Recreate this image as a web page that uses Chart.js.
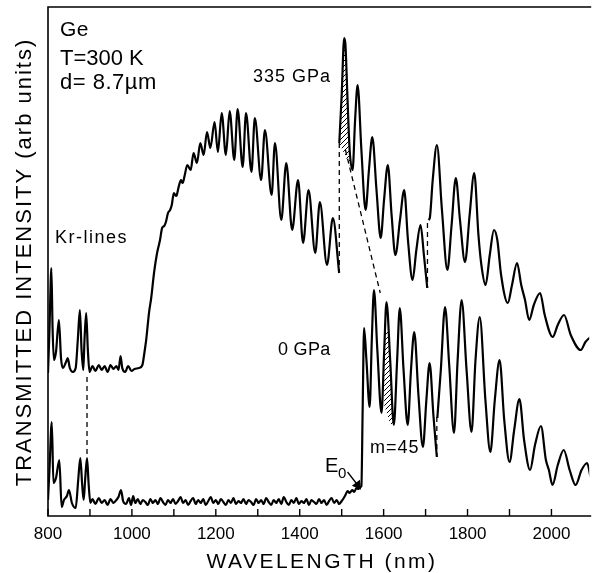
<!DOCTYPE html>
<html>
<head>
<meta charset="utf-8">
<script src="https://cdn.jsdelivr.net/npm/chart.js@4"></script>
<style>
html, body { margin: 0; padding: 0; background: #fff; }
</style>
</head>
<body>
<canvas id="chart" width="595" height="573"></canvas>
<script>
// wavelength (nm), transmitted intensity (arb units)
const upper335 = [
  [800,143],[803.5,186],[808,248],[811,186],[814,156],[819,164],[826,196],[831,158],[835,148],[843,154],[847,158],[852,148],[859,144],[866,148],[871,176],[876,206],[880,166],[884,146],[887,176],[891,203],[895,166],[899,144],
  [906,150],[913,145],[921,151],[928,146],[935,150],[942,144],[949,151],[956,147],[963,150],[968,146],[973,160],[977,148],[984,144],[991,150],[999,145],[1006,147],[1017,148],[1025,151],
  [1029,161],[1034,176],[1041,204],[1046,218],[1053,244],[1060,263],[1067,276],[1072,288],[1077,290],[1081,294],[1086,303],[1091,306],[1095,311],[1100,323],[1105,320],[1107,321],[1112,330],[1117,336],[1121,333],[1126,341],
  [1132,351],[1140,346],[1147,363],[1155,353],[1163,373],[1171,361],[1179,384],[1187,368],[1197,394],[1205,364],[1214,403],[1224,361],[1233,405],[1244,356],[1252,407],[1264,349],[1272,403],[1285,344],[1293,398],[1308,336],[1317,386],[1333,321],[1341,373],[1356,296],[1368,353],[1382,286],[1396,336],[1408,273],[1421,326],[1437,263],[1448,314],[1465,251],[1479,298],[1494,243],
  [1494.2,null],
  [1494.3,373],[1500,421],[1506,478],[1509,471],[1514,416],[1519,366],[1526,346],[1532,396],[1538,431],[1547,366],[1557,306],[1565,346],[1573,379],[1583,326],[1593,278],[1601,316],[1610,351],[1619,301],[1628,261],[1639,296],[1649,326],[1658,276],[1669,236],[1678,266],[1688,291],[1696,261],[1704,228],
  [1705,null],
  [1707,296],[1710,298],[1717,336],[1727,371],[1739,306],[1752,246],[1762,291],[1772,338],[1782,296],[1794,254],[1805,301],[1816,343],[1826,281],[1833,251],[1843,231],[1853,261],[1863,286],[1871,276],[1880,241],[1896,213],[1906,231],[1918,253],[1928,231],[1937,216],[1947,196],[1958,211],[1973,223],[1984,201],[2003,179],[2015,191],[2030,201],[2046,181],[2070,166],[2081,174],[2093,179]
];

const lower0 = [
  [800,16],[803.5,46],[809,94],[813,33],[819,38],[827,56],[832.5,9],[838,16],[845,20],[850,26],[857,13],[866,8],[872,36],[877,58],[881.5,31],[885,16],[888.5,36],[893,58],[897,31],[901,13],[906,17],[913,12],[921,18],[928,13],[935,16],[942,11],[949,17],[956,13],[963,16],[968,19],[974,26],[979,15],[986,12],[993,18],[998,11],[1003,20],
  [1008,13],[1014,17],[1020,12],[1026,16],[1032,14],[1038,11],[1044,17],[1050,13],[1056,16],[1062,12],[1068,18],[1074,14],[1080,11],[1086,16],[1092,13],[1098,17],[1104,12],[1110,15],[1116,19],[1122,13],[1128,16],[1134,11],[1140,15],[1146,18],[1152,12],[1158,16],[1164,13],[1170,17],[1176,11],[1182,15],[1188,19],[1194,13],[1200,16],[1206,12],[1212,17],[1218,14],[1224,11],[1230,16],[1236,13],[1242,18],[1248,12],[1254,15],[1260,13],[1266,17],[1272,12],[1278,16],[1284,14],[1290,11],[1296,17],[1302,13],[1308,16],[1314,12],[1320,18],[1326,14],[1332,11],[1338,16],[1344,13],[1350,17],[1356,12],[1362,19],[1368,14],[1374,11],[1380,16],[1386,13],[1392,18],[1398,12],[1404,15],[1410,13],[1416,17],[1422,11],[1428,16],[1434,14],[1440,12],[1446,17],[1452,13],[1458,16],[1464,11],[1470,15],[1476,18],[1482,13],[1488,16],[1494,12],[1500,15],[1505,18],
  [1509,21],[1514,25],[1519,23],[1525,26],[1530,24],[1535,28],[1540,27],[1544,29],[1547,30],[1550,106],[1553.4,188],[1559,156],[1566.7,109],[1571.8,176],[1577,226],[1585,166],[1595,103],[1601.4,166],[1606.8,214],[1615.6,156],[1624.3,91],[1632.2,156],[1638.5,208],[1647.5,146],[1657.4,91],[1665.2,146],[1673,184],[1683,121],[1693.6,69],[1701.9,116],[1709.6,153],[1718.6,101],[1726.8,59],
  [1727.4,null],
  [1728,98],[1736.3,146],[1746.4,209],[1756.3,151],[1767.7,83],[1776.4,156],[1785.9,216],[1797.7,146],[1809.5,84],[1819,156],[1829.1,199],[1842.6,116],[1854.4,64],[1865,116],[1876.4,156],[1887.5,96],[1900.1,54],[1911.2,86],[1923.7,117],[1934.8,76],[1949,46],[1960.8,71],[1975,90],[1986.8,56],[1993.9,46],[2002.5,31],[2015.1,51],[2029.3,66],[2043.4,46],[2057.6,31],[2071.8,46],[2085,53],[2093.1,39]
];

// dashed guide lines, each [from, to]
const dashes = [
  [[893,139],[893,61]],
  [[1494.3,373],[1494.3,246]],
  [[1509,366],[1592,223]],
  [[1704.5,293],[1704.5,228]],
  [[1726.8,99],[1726.8,59]]
];

// hatched peaks
const hatchUpper = [[1494.3,373],[1500,421],[1506,478],[1509,471],[1514,416],[1519,366],[1521,349],[1494.3,373]];
const hatchLower = [[1601.4,186],[1610.9,186],[1624.3,91],[1615.6,92],[1601.4,111],[1601.4,186]];

const e0Arrow = [[1514,44],[1538,31]];

const tickMarks = [800,900,1000,1100,1200,1300,1400,1500,1600,1700,1800,1900,2000];
const tickLabels = [800,1000,1200,1400,1600,1800,2000];

const FONT = '"Liberation Sans", Arial, sans-serif';
const toXY = arr => arr.map(([x, y]) => ({x: x, y: y}));

const ctx0 = document.getElementById("chart").getContext("2d");
function hatchPattern() {
    const c = document.createElement("canvas");
    c.width = 5; c.height = 5;
    const g = c.getContext("2d");
    g.strokeStyle = "#000";
    g.lineWidth = 1;
    g.beginPath();
    g.moveTo(0, 5); g.lineTo(5, 0);
    g.moveTo(-1, 1); g.lineTo(1, -1);
    g.moveTo(4, 6); g.lineTo(6, 4);
    g.stroke();
    return ctx0.createPattern(c, "repeat");
}
const hatch = hatchPattern();

let datasets = [
    { data: toXY(hatchUpper), fill: 'shape', backgroundColor: hatch, borderWidth: 0, pointRadius: 0, tension: 0 },
    { data: toXY(hatchLower), fill: 'shape', backgroundColor: hatch, borderWidth: 0, pointRadius: 0, tension: 0 },
    { data: toXY(upper335), borderColor: '#000', borderWidth: 2.2, pointRadius: 0, cubicInterpolationMode: 'monotone', spanGaps: false },
    { data: toXY(lower0), borderColor: '#000', borderWidth: 2.2, pointRadius: 0, cubicInterpolationMode: 'monotone', spanGaps: false }
];
dashes.forEach(d => {
    datasets.push({ data: toXY(d), borderColor: '#000', borderWidth: 1.3, borderDash: [5, 4], pointRadius: 0 });
});
datasets.push({
    data: toXY(e0Arrow), borderColor: '#000', borderWidth: 1.3,
    pointRadius: [0, 4.5], pointStyle: 'triangle', pointRotation: 143,
    pointBackgroundColor: '#000', pointBorderColor: '#000'
});

function txt(ctx, s, x, y, size, spacing) {
    ctx.font = size + "px " + FONT;
    ctx.letterSpacing = (spacing || 0) + "px";
    ctx.fillText(s, x, y);
}

const decor = {
    id: 'decor',
    afterDraw(chart) {
        const ctx = chart.ctx;
        const a = chart.chartArea;
        const x = chart.scales.x;
        ctx.save();
        ctx.strokeStyle = '#000';
        ctx.lineWidth = 1.6;
        ctx.beginPath();
        ctx.moveTo(a.right + 2, a.top);
        ctx.lineTo(a.left, a.top);
        ctx.lineTo(a.left, a.bottom);
        ctx.lineTo(a.right + 2, a.bottom);
        ctx.stroke();

        ctx.lineWidth = 1.4;
        tickMarks.forEach(v => {
            const px = x.getPixelForValue(v);
            ctx.beginPath();
            ctx.moveTo(px, a.bottom);
            ctx.lineTo(px, a.bottom - 7);
            ctx.stroke();
        });

        ctx.fillStyle = '#000';
        ctx.textBaseline = 'alphabetic';
        ctx.textAlign = 'left';
        txt(ctx, "Ge", 60, 36, 21, 0.5);
        txt(ctx, "T=300 K", 60, 65, 22, 0);
        txt(ctx, "d= 8.7\u00b5m", 60, 89, 22, 0.5);
        txt(ctx, "335 GPa", 253, 82, 18, 1);
        txt(ctx, "Kr-lines", 55, 243, 18, 1.5);
        txt(ctx, "0 GPa", 278, 355, 18, 0.3);
        txt(ctx, "m=45", 370, 453, 18, 1);
        txt(ctx, "E", 325, 472, 20, 0);
        txt(ctx, "0", 338, 478, 15, 0);

        ctx.textAlign = 'center';
        txt(ctx, "WAVELENGTH (nm)", 322, 568, 21, 2.5);

        ctx.translate(31, 262);
        ctx.rotate(-Math.PI / 2);
        txt(ctx, "TRANSMITTED INTENSITY (arb units)", 0, 0, 22, 2);
        ctx.restore();
    }
};

new Chart(ctx0, {
    type: 'line',
    data: { datasets: datasets },
    options: {
        responsive: false,
        devicePixelRatio: 1,
        animation: false,
        layout: { padding: { top: 7, right: 1, left: 0, bottom: 0 } },
        plugins: { legend: { display: false }, tooltip: { enabled: false } },
        scales: {
            x: {
                type: 'linear', min: 800, max: 2090,
                afterBuildTicks: s => { s.ticks = tickLabels.map(v => ({ value: v })); },
                afterFit: s => { s.height = 57; },
                ticks: { color: '#000', font: { family: FONT, size: 17 }, padding: 8, maxRotation: 0, autoSkip: false,
                         callback: v => String(v) },
                grid: { display: false, drawTicks: false },
                border: { display: false }
            },
            y: {
                type: 'linear', min: 0, max: 509,
                afterFit: s => { s.width = 48; },
                ticks: { display: false },
                grid: { display: false, drawTicks: false },
                border: { display: false }
            }
        }
    },
    plugins: [decor]
});
</script>
</body>
</html>
